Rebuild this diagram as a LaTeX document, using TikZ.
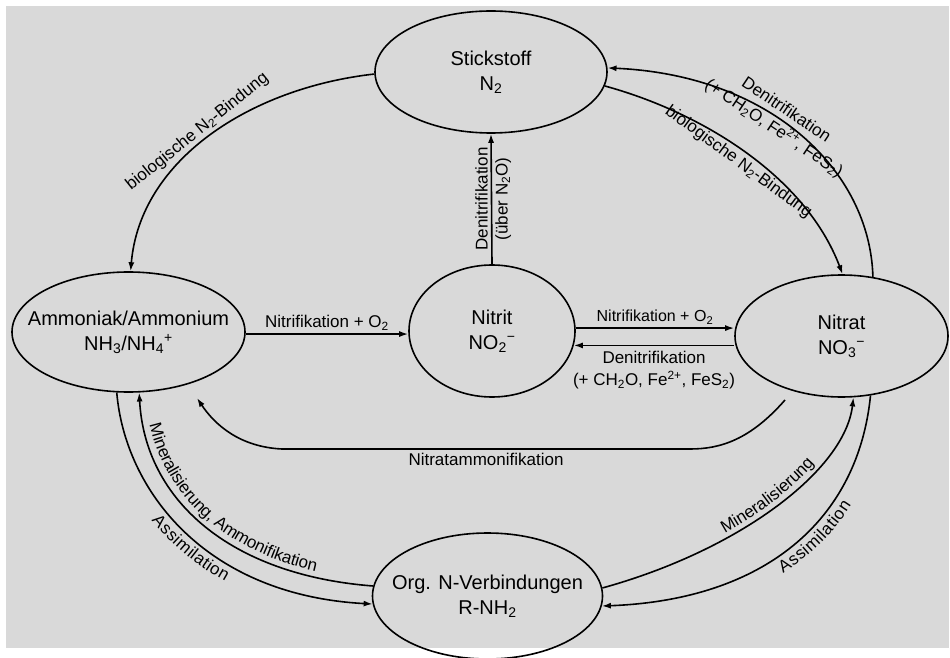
\documentclass[tikz,border=0pt]{standalone}
\usepackage{fontspec}
\setmainfont{Liberation Sans}
\usetikzlibrary{shapes.geometric,arrows.meta,decorations.text}
\definecolor{bg}{HTML}{D9D9D9}
\newcommand{\efont}{\fontsize{17}{22}\selectfont}
\begin{document}
\begin{tikzpicture}[x=1pt,y=1pt,
  ell/.style={ellipse, draw, line width=1.6pt, inner sep=0pt},
  ntext/.style={font=\fontsize{20}{25}\selectfont, align=center, inner sep=0pt},
  etext/.style={font=\efont, align=center, inner sep=3pt},
  conn/.style={line width=1.6pt},
  arr/.style={conn, -{Latex[length=9pt,width=6pt]}},
  alongtext/.style 2 args={decorate, decoration={text along path, text={|\efont|#1}, #2}},
]
\useasboundingbox (0,0) rectangle (950,657);
\fill[bg] (6,9) rectangle (949,651);

% nodes
\node[ell, minimum width=232pt, minimum height=122pt] (N2) at (491,585) {};
\node[ell, minimum width=233pt, minimum height=120pt] (NH) at (128.5,325) {};
\node[ell, minimum width=166pt, minimum height=132pt] (NO2) at (492,326) {};
\node[ell, minimum width=213pt, minimum height=122pt] (NO3) at (841.5,321) {};
\node[ell, minimum width=230pt, minimum height=126pt] (Org) at (487.5,61) {};

\node[ntext] (N2t) at (N2) {Stickstoff\\N\textsubscript{2}};
\node[ntext] (NHt) at (NH) {Ammoniak/Ammonium\\NH\textsubscript{3}/NH\textsubscript{4}\textsuperscript{+}};
\node[ntext] (NO2t) at (NO2) {Nitrit\\NO\textsubscript{2}\textsuperscript{−}};
\node[ntext] (NO3t) at (NO3) {Nitrat\\NO\textsubscript{3}\textsuperscript{−}};
\node[ntext] (Orgt) at (Org) {Org. N-Verbindungen\\R-NH\textsubscript{2}};

% free ends
\coordinate (naS) at (785,257);
\coordinate (naE) at (197,259);

% Stickstoff -> Ammoniak
\draw[arr] (N2.181) .. controls (250,569) and (140,497) .. node[etext, sloped, above, pos=0.52, inner sep=2pt] {biologische N\textsubscript{2}-Bindung} (NH.88);
% Nitrat -> Stickstoff
\draw[arr] (NO3.62.7) .. controls (870,487) and (770,582) .. node[etext, sloped, anchor=center, pos=0.57] {Denitrifikation\\(+ CH\textsubscript{2}O, Fe\textsuperscript{2+}, FeS\textsubscript{2})} (N2.2);
% Stickstoff -> Nitrat
\draw[arr] (N2.-7.5) .. controls (700,545) and (805,482) .. node[etext, sloped, below, pos=0.5] {biologische N\textsubscript{2}-Bindung} (NO3.89);
% Nitrit -> Stickstoff
\draw[arr] (NO2.north) -- node[etext, rotate=90, anchor=south] {Denitrifikation} node[etext, rotate=90, anchor=north] {(über N\textsubscript{2}O)} (N2.south);
% Ammoniak -> Nitrit
\draw[arr] (NH.-1.5) -- node[etext, above] {Nitrifikation + O\textsubscript{2}} (NH.-1.5 -| NO2.west);
% Nitrit <-> Nitrat
\draw[arr] (NO2.2) -- node[etext, above, font=\fontsize{16}{20}\selectfont] {Nitrifikation + O\textsubscript{2}} (NO2.2 -| NO3.west);
\draw[arr] (NO2.-10.5 -| NO3.west) -- node[etext, below, yshift=-2pt] {Denitrifikation\\(+ CH\textsubscript{2}O, Fe\textsuperscript{2+}, FeS\textsubscript{2})} (NO2.-10.5);
% Nitratammonifikation
\draw[arr] (naS) .. controls (750,217) and (720,208) .. (690,208) -- node[etext, below] {Nitratammonifikation} (282,208) .. controls (240,210) and (215,232) .. (naE);
% Ammoniak <-> Org
\draw[arr] (NH.-101) .. controls (125,167) and (205,62) .. (Org.184);
\path[alongtext={Assimilation}{text align={left indent=128pt}, raise=-17pt}] (NH.-101) .. controls (125,167) and (205,62) .. (Org.184);
\draw[arr] (Org.175) .. controls (230,82) and (145,157) .. (NH.-80);
\path[alongtext={Mineralisierung, Ammonifikation}{text align={left indent=34pt}, raise=6pt}] (NH.-80) .. controls (145,157) and (230,82) .. (Org.175);
% Org <-> Nitrat
\draw[arr] (Org.4) .. controls (740,107) and (845,187) .. (NO3.-79);
\path[alongtext={Mineralisierung}{text align={left indent=135pt}, raise=5pt}] (Org.4) .. controls (740,107) and (845,187) .. (NO3.-79);
\draw[arr] (NO3.-64) .. controls (858,137) and (765,57) .. (Org.-5.5);
\path[alongtext={Assimilation}{text align={left indent=180pt}, raise=-17pt}] (Org.-5.5) .. controls (765,57) and (858,137) .. (NO3.-64);
\end{tikzpicture}
\end{document}
